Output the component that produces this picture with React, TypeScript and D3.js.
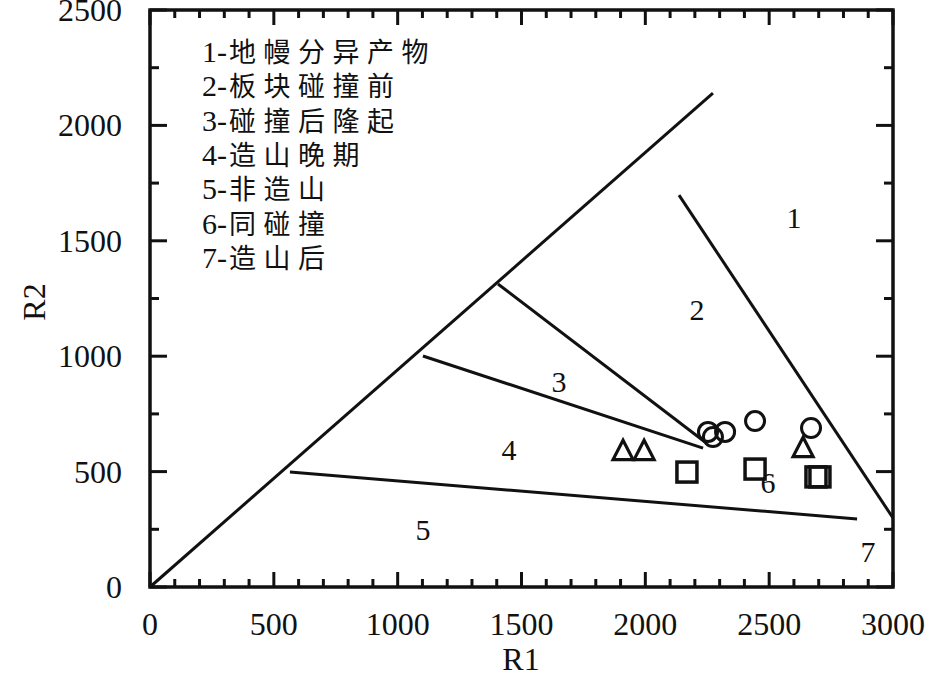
import React from "react";
import * as d3 from "d3";

const W = 945;
const H = 673;

const xTicksMajor = [0, 500, 1000, 1500, 2000, 2500, 3000];
const yTicksMajor = [0, 500, 1000, 1500, 2000, 2500];

// boundary lines [x1, y1, x2, y2] in data units (R1, R2)
const boundaryLines: [number, number, number, number][] = [
  [0, 0, 2273, 2140],
  [2136, 1698, 3000, 299],
  [1405, 1313, 2241, 628],
  [1102, 1001, 2233, 602],
  [565, 498, 2855, 295],
];

const circlesR1 = [2253, 2273, 2322, 2443, 2669];
const circlesR2 = [672, 650, 672, 719, 689];

const trianglesR1 = [1910, 1995, 2637];
const trianglesR2 = [594, 594, 607];

const squaresR1 = [2168, 2443, 2689, 2705];
const squaresR2 = [498, 511, 477, 477];

const regionLabels = ["1", "2", "3", "4", "5", "6", "7"];
const regionR1 = [2600, 2209, 1651, 1450, 1102, 2495, 2899];
const regionR2 = [1599, 1200, 888, 594, 247, 451, 152];

const legendNums = ["1-", "2-", "3-", "4-", "5-", "6-", "7-"];
const legendNames = ["地幔分异产物", "板块碰撞前", "碰撞后隆起", "造山晚期", "非造山", "同碰撞", "造山后"];

const SERIF = "'Liberation Serif', 'Times New Roman', serif";
const CJK = "'Noto Sans CJK SC', sans-serif";

export default function App() {
  const x = d3.scaleLinear().domain([0, 3000]).range([150, 893]);
  const y = d3.scaleLinear().domain([0, 2500]).range([587, 10]);

  const xMinor = d3.range(0, 3001, 100).filter((v) => v % 500 !== 0);
  const yMinor = d3.range(0, 2501, 250).filter((v) => v % 500 !== 0);

  const tri = (cx: number, cy: number, s: number) => {
    const h = s * Math.sqrt(3) / 2;
    return `M${cx},${cy - h / 2 - 1}L${cx + s / 2},${cy + h / 2 + 1}L${cx - s / 2},${cy + h / 2 + 1}Z`;
  };

  return (
    <svg width={W} height={H} style={{ position: "absolute", left: 0, top: 0, background: "#fff" }}>
      <rect x={0} y={0} width={W} height={H} fill="#fff" />
      {/* frame */}
      <rect x={x(0)} y={y(2500)} width={x(3000) - x(0)} height={y(0) - y(2500)} fill="none" stroke="#111" strokeWidth={3.5} />
      {/* x ticks */}
      {xTicksMajor.map((v) => (
        <g key={"xm" + v}>
          <line x1={x(v)} x2={x(v)} y1={y(0)} y2={y(0) - 15} stroke="#111" strokeWidth={3} />
          <line x1={x(v)} x2={x(v)} y1={y(2500)} y2={y(2500) + 15} stroke="#111" strokeWidth={3} />
          <text x={x(v)} y={635} textAnchor="middle" fontFamily={SERIF} fontSize={32} fill="#111">{v}</text>
        </g>
      ))}
      {xMinor.map((v) => (
        <g key={"xn" + v}>
          <line x1={x(v)} x2={x(v)} y1={y(0)} y2={y(0) - 8} stroke="#111" strokeWidth={3} />
          <line x1={x(v)} x2={x(v)} y1={y(2500)} y2={y(2500) + 8} stroke="#111" strokeWidth={3} />
        </g>
      ))}
      {/* y ticks */}
      {yTicksMajor.map((v) => (
        <g key={"ym" + v}>
          <line x1={x(0)} x2={x(0) + 17} y1={y(v)} y2={y(v)} stroke="#111" strokeWidth={3} />
          <line x1={x(3000)} x2={x(3000) - 17} y1={y(v)} y2={y(v)} stroke="#111" strokeWidth={3} />
          <text x={122} y={y(v) + 11} textAnchor="end" fontFamily={SERIF} fontSize={32} fill="#111">{v}</text>
        </g>
      ))}
      {yMinor.map((v) => (
        <g key={"yn" + v}>
          <line x1={x(0)} x2={x(0) + 9} y1={y(v)} y2={y(v)} stroke="#111" strokeWidth={3} />
          <line x1={x(3000)} x2={x(3000) - 9} y1={y(v)} y2={y(v)} stroke="#111" strokeWidth={3} />
        </g>
      ))}
      {/* axis titles */}
      <text x={521} y={670} textAnchor="middle" fontFamily={SERIF} fontSize={32} fill="#111">R1</text>
      <text transform="translate(45,302) rotate(-90)" textAnchor="middle" fontFamily={SERIF} fontSize={32} fill="#111">R2</text>
      {/* boundaries */}
      {boundaryLines.map((l, i) => (
        <line key={"b" + i} x1={x(l[0])} y1={y(l[1])} x2={x(l[2])} y2={y(l[3])} stroke="#111" strokeWidth={3} />
      ))}
      {/* region labels */}
      {regionLabels.map((t, i) => (
        <text key={"r" + i} x={x(regionR1[i])} y={y(regionR2[i]) + 10} textAnchor="middle" fontFamily={SERIF} fontSize={30} fill="#111">{t}</text>
      ))}
      {/* markers */}
      {circlesR1.map((v, i) => (
        <circle key={"c" + i} cx={x(v)} cy={y(circlesR2[i])} r={9.5} fill="none" stroke="#111" strokeWidth={3} />
      ))}
      {trianglesR1.map((v, i) => (
        <path key={"t" + i} d={tri(x(v), y(trianglesR2[i]), 20)} fill="none" stroke="#111" strokeWidth={3.2} strokeLinejoin="miter" />
      ))}
      {squaresR1.map((v, i) => (
        <rect key={"s" + i} x={x(v) - 10} y={y(squaresR2[i]) - 10} width={20} height={20} fill="none" stroke="#111" strokeWidth={3.5} />
      ))}
      {/* legend */}
      {legendNums.map((n, i) => (
        <text key={"l" + i} x={202} y={62 + i * 34.3} fill="#111">
          <tspan fontFamily={SERIF} fontSize={30}>{n}</tspan>
          <tspan fontFamily={CJK} fontSize={27} letterSpacing={7.5} dx={2}>{legendNames[i]}</tspan>
        </text>
      ))}
    </svg>
  );
}
